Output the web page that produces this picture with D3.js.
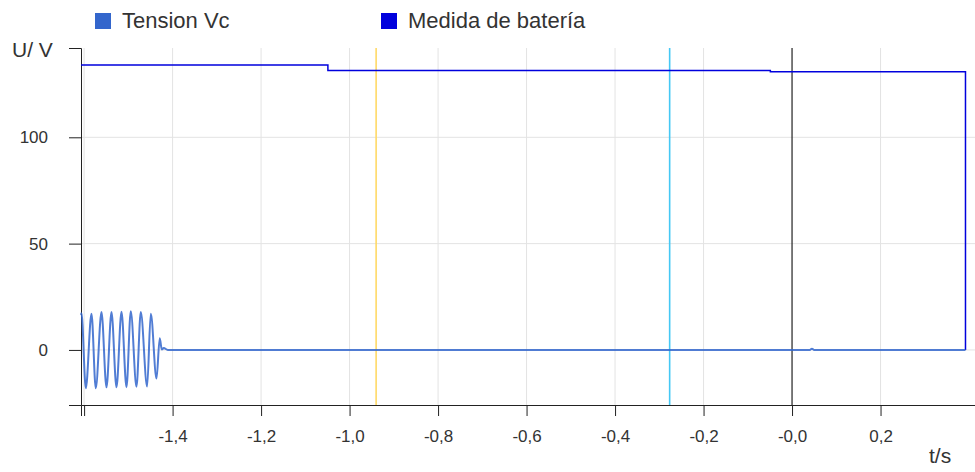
<!DOCTYPE html>
<html>
<head>
  <meta charset="utf-8" />
  <title>Tension Vc / Medida de batería</title>
  <script src="https://cdn.jsdelivr.net/npm/d3@7"></script>
  <style>
    body { margin: 0; background: #fff; }
    svg text { font-family: "Liberation Sans", Arial, sans-serif; fill: #333; }
    .grid line { stroke: #e3e3e3; stroke-width: 1; }
  </style>
</head>
<body>
  <div id="chart"></div>
  <script>
    // x ticks and their labels (comma decimals, as in the original)
    const xTicks = [-1.6, -1.4, -1.2, -1.0, -0.8, -0.6, -0.4, -0.2, 0.0, 0.2];
    const xTickLabels = ["", "-1,4", "-1,2", "-1,0", "-0,8", "-0,6", "-0,4", "-0,2", "-0,0", "0,2"];
    const yTicks = [0, 50, 100];
    const yTickLabels = ["0", "50", "100"];

    // Tension Vc (time in s, volts)
    const vcTime = [-1.607, -1.6059, -1.5961, -1.5833, -1.5736, -1.5607, -1.5494, -1.5381, -1.5268,
                    -1.5155, -1.5042, -1.4945, -1.4816, -1.4719, -1.4576, -1.4493, -1.4364,
                    -1.4290, -1.4244, -1.4199, -1.4109, 0.040, 0.045, 0.050, 0.392];
    const vcValue = [16.5, 17.2, -18.0, 17.0, -18.0, 17.8, -17.6, 17.8, -17.6,
                     18.0, -17.5, 18.2, -17.3, 17.8, -17.2, 17.0, -13.4,
                     5.5, 0.2, 0.9, 0.0, 0.0, 0.6, 0.0, 0.0];

    // Medida de batería: step values
    const batTime = [-1.607, -1.049, -1.049, -0.049, -0.049, 0.392, 0.392];
    const batValue = [134.0, 134.0, 131.4, 131.4, 130.8, 130.8, 0];

    // marker lines
    const markerTime = [-0.940, -0.2766, 0.0];
    const markerColor = ["#ffd966", "#45c8f5", "#222"];

    const legendNames = ["Tension Vc", "Medida de batería"];
    const legendColors = ["#3366cc", "#0000dd"];

    const width = 975, height = 472;
    const marginLeft = 81, marginRight = 0, marginTop = 48, marginBottom = 67;

    const svg = d3.select("#chart").append("svg")
      .attr("width", width)
      .attr("height", height);

    const x = d3.scaleLinear()
      .domain([-1.607, 0.4135])
      .range([marginLeft, width - marginRight]);

    const y = d3.scaleLinear()
      .domain([-25.9, 142])
      .range([height - marginBottom, marginTop]);

    // grid
    svg.append("g").attr("class", "grid")
      .selectAll("line").data(xTicks.filter(d => d !== 0)).join("line")
      .attr("x1", d => x(d)).attr("x2", d => x(d))
      .attr("y1", y.range()[1]).attr("y2", y.range()[0]);
    svg.append("g").attr("class", "grid")
      .selectAll("line").data(yTicks).join("line")
      .attr("x1", x.range()[0]).attr("x2", x.range()[1])
      .attr("y1", d => y(d)).attr("y2", d => y(d));

    // axes
    const xAxis = d3.axisBottom(x)
      .tickValues(xTicks)
      .tickFormat((d, i) => xTickLabels[i])
      .tickSizeOuter(0)
      .tickSize(11)
      .tickPadding(14);
    const gx = svg.append("g")
      .attr("transform", `translate(0,${y.range()[0]})`)
      .call(xAxis);
    gx.selectAll("text").style("font-size", "17px").attr("fill", "#333");
    gx.select(".domain").attr("stroke", "#222");
    gx.selectAll(".tick line").attr("stroke", "#222");

    const yAxis = d3.axisLeft(y)
      .tickValues(yTicks)
      .tickFormat((d, i) => yTickLabels[i])
      .tickSizeOuter(0)
      .tickSize(12)
      .tickPadding(21);
    const gy = svg.append("g")
      .attr("transform", `translate(${marginLeft},0)`)
      .call(yAxis);
    gy.selectAll("text").style("font-size", "17px").attr("fill", "#333");
    gy.select(".domain").attr("stroke", "#222");
    gy.selectAll(".tick line").attr("stroke", "#222");

    // marker lines
    svg.append("g").selectAll("line").data(markerTime).join("line")
      .attr("x1", d => x(d)).attr("x2", d => x(d))
      .attr("y1", y.range()[1]).attr("y2", y.range()[0])
      .attr("stroke", (d, i) => markerColor[i])
      .attr("stroke-width", (d, i) => i === 2 ? 1.2 : 1.6);

    // battery line
    const batData = batTime.map((t, i) => [t, batValue[i]]);
    svg.append("path")
      .datum(batData)
      .attr("fill", "none")
      .attr("stroke", legendColors[1])
      .attr("stroke-width", 1.5)
      .attr("d", d3.line().x(d => x(d[0])).y(d => y(d[1])));

    // Tension Vc line
    const vcData = vcTime.map((t, i) => [t, vcValue[i]]);
    svg.append("path")
      .datum(vcData)
      .attr("fill", "none")
      .attr("stroke", legendColors[0])
      .attr("stroke-opacity", 0.85)
      .attr("stroke-width", 2)
      .attr("d", d3.line().curve(d3.curveMonotoneX).x(d => x(d[0])).y(d => y(d[1])));

    // legend
    const legendX = [95, 381];
    const lg = svg.append("g").selectAll("g").data(legendNames).join("g")
      .attr("transform", (d, i) => `translate(${legendX[i]},13)`);
    lg.append("rect").attr("width", 16).attr("height", 16)
      .attr("fill", (d, i) => legendColors[i]);
    lg.append("text").attr("x", 27).attr("y", 15)
      .style("font-size", "22px").attr("fill", "#222")
      .text(d => d);

    // axis titles
    svg.append("text").attr("x", 12).attr("y", 57)
      .style("font-size", "21px").attr("fill", "#222").text("U/ V");
    svg.append("text").attr("x", 929).attr("y", 463)
      .style("font-size", "21px").attr("fill", "#222").text("t/s");
  </script>
</body>
</html>
